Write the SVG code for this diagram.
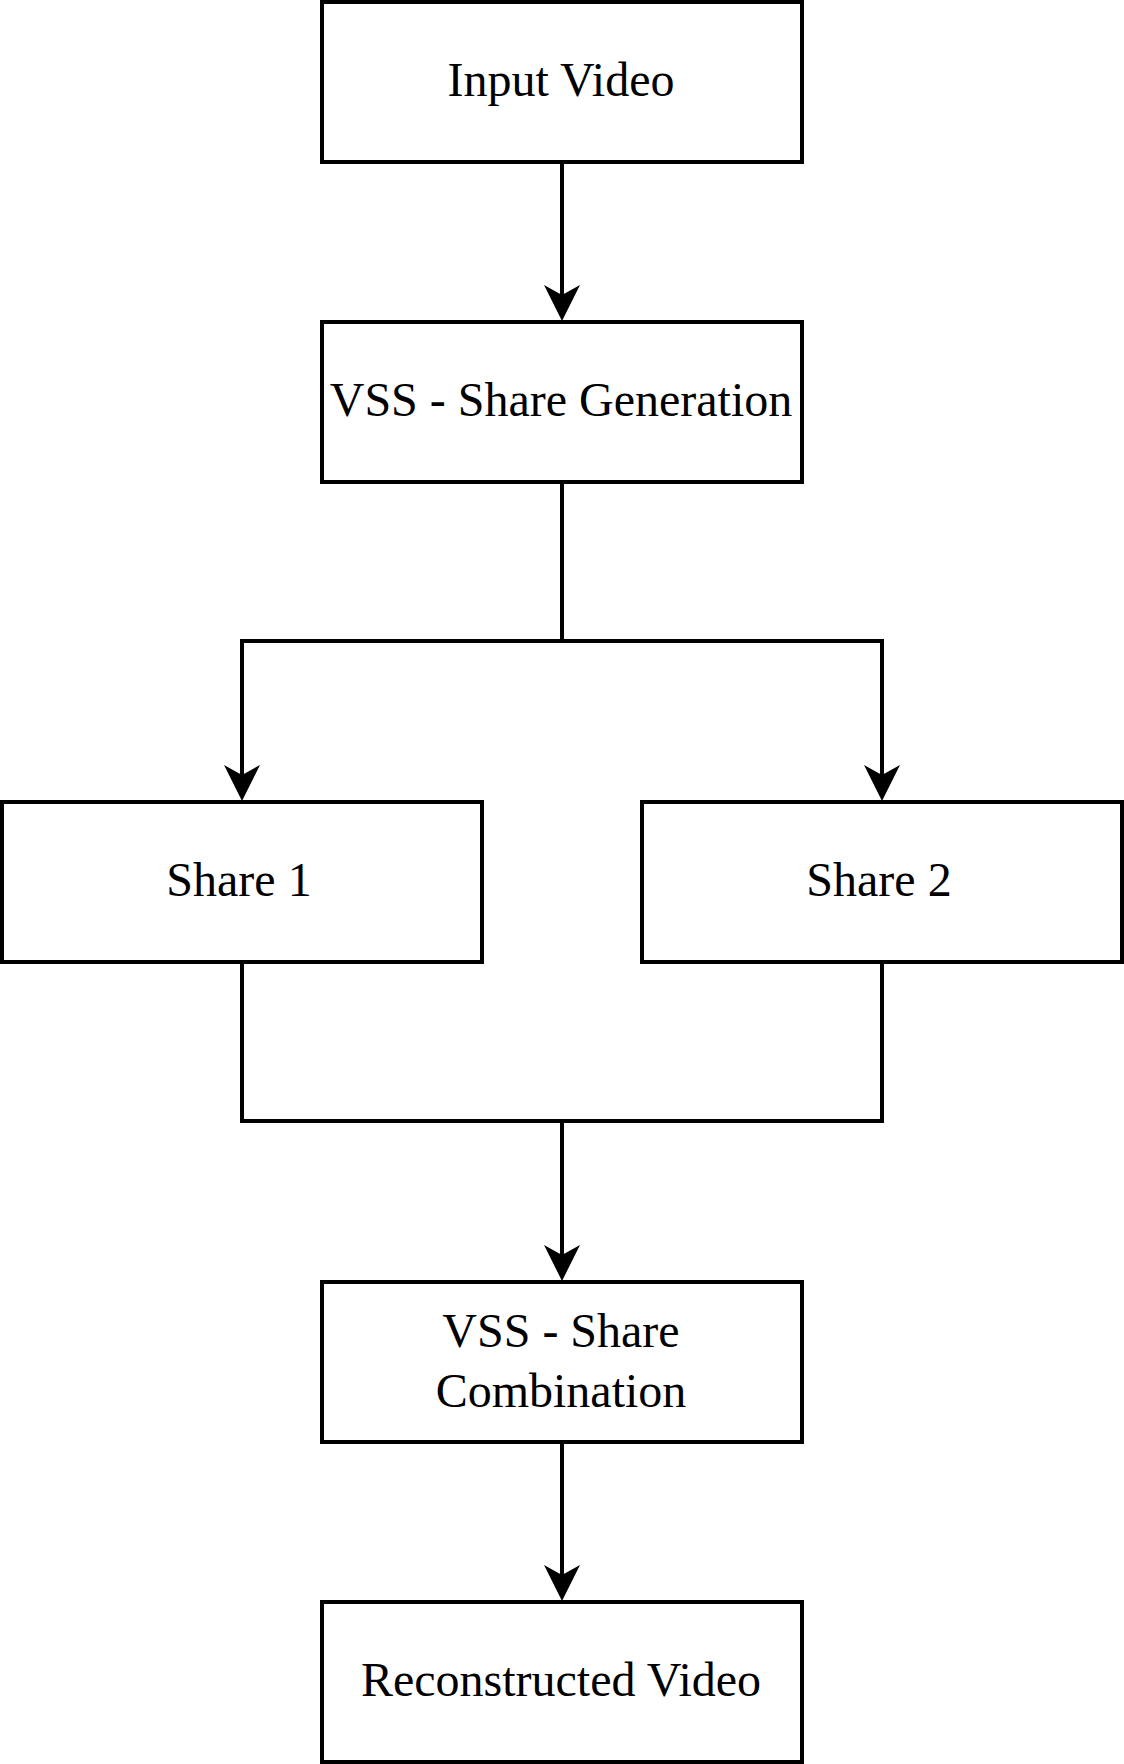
<svg xmlns="http://www.w3.org/2000/svg" xmlns:xlink="http://www.w3.org/1999/xlink" width="1124" height="1764" viewBox="0 0 1124 1764">
<style>
.box{fill:#fff;stroke:#000;stroke-width:4}
.lbl{font-family:'Liberation Serif','Tinos','DejaVu Serif',serif;font-size:48px;fill:#000;text-anchor:middle}
.conn{fill:none;stroke:#000;stroke-width:4}
</style>
<defs>
<path id="ah" d="M0,0 L-18,-36 L0,-26 L18,-36 Z" fill="#000"/>
</defs>
<rect width="1124" height="1764" fill="#fff"/>
<g id="connectors">
<path class="conn" d="M562,162 V296"/>
<use xlink:href="#ah" x="562" y="321"/>
<path class="conn" d="M562,482 V641 M240,641 H884 M242,641 V776 M882,641 V776"/>
<use xlink:href="#ah" x="242" y="801"/>
<use xlink:href="#ah" x="882" y="801"/>
<path class="conn" d="M242,962 V1121 H882 V962 M562,1121 V1256"/>
<use xlink:href="#ah" x="562" y="1281"/>
<path class="conn" d="M562,1442 V1576"/>
<use xlink:href="#ah" x="562" y="1601"/>
</g>
<g id="input-video">
<rect class="box" x="322" y="2" width="480" height="160"/>
<text class="lbl" x="561" y="96">Input Video</text>
</g>
<g id="share-generation">
<rect class="box" x="322" y="322" width="480" height="160"/>
<text class="lbl" x="561" y="416">VSS - Share Generation</text>
</g>
<g id="share-1">
<rect class="box" x="2" y="802" width="480" height="160"/>
<text class="lbl" x="239" y="896">Share 1</text>
</g>
<g id="share-2">
<rect class="box" x="642" y="802" width="480" height="160"/>
<text class="lbl" x="879" y="896">Share 2</text>
</g>
<g id="share-combination">
<rect class="box" x="322" y="1282" width="480" height="160"/>
<text class="lbl" x="561" y="1347">VSS - Share</text>
<text class="lbl" x="561" y="1407">Combination</text>
</g>
<g id="reconstructed-video">
<rect class="box" x="322" y="1602" width="480" height="160"/>
<text class="lbl" x="561" y="1696">Reconstructed Video</text>
</g>
</svg>
